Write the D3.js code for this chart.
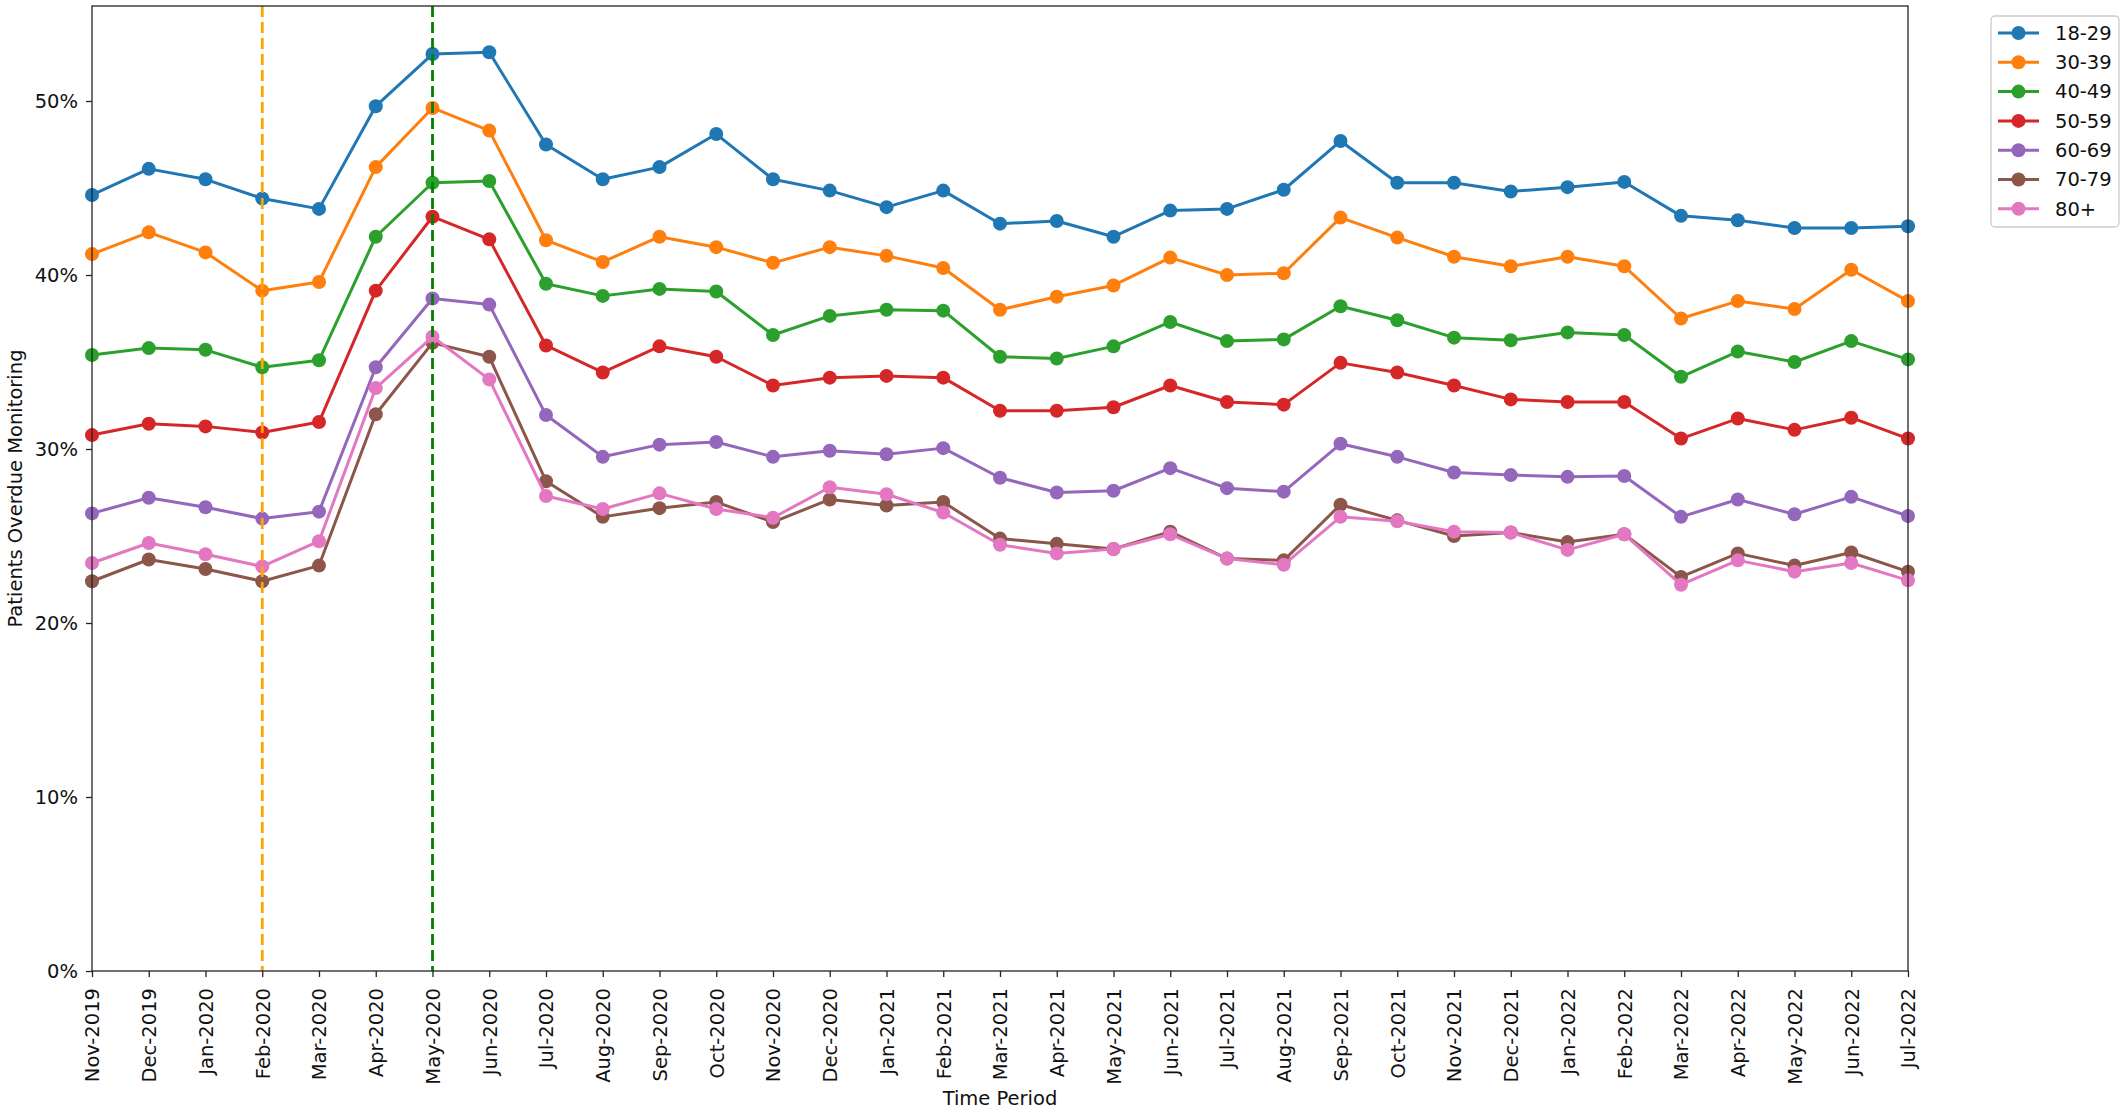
<!DOCTYPE html>
<html>
<head>
<meta charset="utf-8">
<script src="https://cdn.jsdelivr.net/npm/d3@7"></script>
<style>
  html, body { margin: 0; padding: 0; background: #fff; }
  svg { display: block; font-family: "DejaVu Sans", sans-serif; }
</style>
</head>
<body>
<svg id="chart" width="2128" height="1117"></svg>
<script>
const periods = ["Nov-2019","Dec-2019","Jan-2020","Feb-2020","Mar-2020","Apr-2020","May-2020","Jun-2020","Jul-2020","Aug-2020","Sep-2020","Oct-2020","Nov-2020","Dec-2020","Jan-2021","Feb-2021","Mar-2021","Apr-2021","May-2021","Jun-2021","Jul-2021","Aug-2021","Sep-2021","Oct-2021","Nov-2021","Dec-2021","Jan-2022","Feb-2022","Mar-2022","Apr-2022","May-2022","Jun-2022","Jul-2022"];

const ageGroups = ["18-29","30-39","40-49","50-59","60-69","70-79","80+"];
const colors = ["#1f77b4","#ff7f0e","#2ca02c","#d62728","#9467bd","#8c564b","#e377c2"];

const age18_29 = [44.6,46.1,45.5,44.4,43.8,49.7,52.7,52.8,47.5,45.5,46.2,48.1,45.5,44.85,43.9,44.85,42.95,43.1,42.2,43.7,43.8,44.9,47.7,45.3,45.3,44.8,45.05,45.35,43.4,43.15,42.7,42.7,42.8];
const age30_39 = [41.2,42.45,41.3,39.1,39.6,46.2,49.6,48.3,42.0,40.75,42.2,41.6,40.7,41.6,41.1,40.4,38.0,38.75,39.4,41.0,40.0,40.1,43.3,42.15,41.05,40.5,41.05,40.5,37.5,38.5,38.05,40.3,38.5];
const age40_49 = [35.4,35.8,35.7,34.7,35.1,42.2,45.3,45.4,39.5,38.8,39.2,39.05,36.55,37.65,38.0,37.95,35.3,35.2,35.9,37.3,36.2,36.3,38.2,37.4,36.4,36.25,36.7,36.55,34.15,35.6,35.0,36.2,35.15];
const age50_59 = [30.8,31.45,31.3,30.95,31.55,39.1,43.35,42.05,35.95,34.4,35.9,35.3,33.65,34.1,34.2,34.1,32.2,32.2,32.4,33.65,32.7,32.55,34.95,34.4,33.65,32.85,32.7,32.7,30.6,31.75,31.1,31.8,30.6];
const age60_69 = [26.3,27.2,26.65,26.0,26.4,34.7,38.65,38.3,31.95,29.55,30.25,30.4,29.55,29.9,29.7,30.05,28.35,27.5,27.6,28.9,27.75,27.55,30.3,29.55,28.65,28.5,28.4,28.45,26.1,27.1,26.25,27.25,26.15];
const age70_79 = [22.4,23.65,23.1,22.4,23.3,32.0,36.1,35.3,28.15,26.1,26.6,26.95,25.8,27.1,26.75,26.95,24.85,24.55,24.25,25.25,23.7,23.6,26.8,25.9,25.0,25.2,24.65,25.1,22.65,24.0,23.3,24.05,22.95];
const age80plus = [23.45,24.6,23.95,23.25,24.7,33.5,36.45,34.0,27.3,26.55,27.45,26.55,26.05,27.8,27.4,26.35,24.5,24.0,24.25,25.1,23.7,23.35,26.1,25.85,25.25,25.2,24.2,25.1,22.2,23.6,22.95,23.45,22.45];

const yTicks = [0,10,20,30,40,50];
const markerLines = [
  { period: "Feb-2020", color: "#ffa500" },
  { period: "May-2020", color: "#008000" }
];

const seriesValues = [age18_29, age30_39, age40_49, age50_59, age60_69, age70_79, age80plus];
const series = ageGroups.map((g, i) => ({ name: g, color: colors[i], values: seriesValues[i] }));

const M = { left: 92, right: 1908, top: 6, bottom: 971 };
const svg = d3.select("#chart");
const FS = 19.5;
const R = 7;
const LW = 3;

const x = d3.scalePoint().domain(periods).range([M.left, M.right]);
const y = d3.scaleLinear().domain([0, 55.46]).range([M.bottom, M.top]);

// series
const line = d3.line().x((d, i) => x(periods[i])).y(d => y(d));
const g = svg.append("g");
series.forEach(s => {
  g.append("path").datum(s.values)
    .attr("d", line).attr("fill", "none")
    .attr("stroke", s.color).attr("stroke-width", LW)
    .attr("stroke-linejoin", "round");
  g.selectAll(null).data(s.values).enter().append("circle")
    .attr("cx", (d, i) => x(periods[i])).attr("cy", d => y(d))
    .attr("r", R).attr("fill", s.color);
});

// vertical dashed lines
markerLines.forEach(m => {
  svg.append("line")
    .attr("x1", x(m.period)).attr("x2", x(m.period))
    .attr("y1", M.top).attr("y2", M.bottom)
    .attr("stroke", m.color).attr("stroke-width", 2.8)
    .attr("stroke-dasharray", "11,5");
});

// frame
svg.append("rect").attr("x", M.left).attr("y", M.top)
  .attr("width", M.right - M.left).attr("height", M.bottom - M.top)
  .attr("fill", "none").attr("stroke", "#222").attr("stroke-width", 1.3);

// axes
const xAxis = svg.append("g").attr("transform", `translate(0,${M.bottom})`)
  .call(d3.axisBottom(x).tickSize(6).tickPadding(9));
xAxis.select(".domain").remove();
xAxis.selectAll(".tick line").attr("stroke", "#222").attr("stroke-width", 1.3);
xAxis.selectAll(".tick text")
  .attr("font-size", FS).attr("font-family", "DejaVu Sans").attr("fill", "#111")
  .attr("transform", "rotate(-90)")
  .attr("text-anchor", "end").attr("x", -17).attr("y", 0).attr("dy", "0.35em");

const yAxis = svg.append("g").attr("transform", `translate(${M.left},0)`)
  .call(d3.axisLeft(y).tickValues(yTicks).tickFormat(d => d + "%").tickSize(6).tickPadding(8));
yAxis.select(".domain").remove();
yAxis.selectAll(".tick line").attr("stroke", "#222").attr("stroke-width", 1.3);
yAxis.selectAll(".tick text").attr("font-size", FS).attr("font-family", "DejaVu Sans").attr("fill", "#111");

// axis titles
svg.append("text").attr("x", (M.left + M.right) / 2).attr("y", 1105)
  .attr("text-anchor", "middle").attr("font-size", FS).attr("fill", "#111")
  .text("Time Period");
svg.append("text")
  .attr("transform", `translate(22,${(M.top + M.bottom) / 2}) rotate(-90)`)
  .attr("text-anchor", "middle").attr("font-size", FS).attr("fill", "#111")
  .text("Patients Overdue Monitoring");

// legend
const lg = svg.append("g");
lg.append("rect").attr("x", 1991).attr("y", 16).attr("width", 128).attr("height", 211)
  .attr("rx", 4).attr("fill", "#fff").attr("stroke", "#ccc").attr("stroke-width", 1.3);
series.forEach((s, i) => {
  const yy = 33 + i * 29.3;
  lg.append("line").attr("x1", 1998).attr("x2", 2039).attr("y1", yy).attr("y2", yy)
    .attr("stroke", s.color).attr("stroke-width", LW);
  lg.append("circle").attr("cx", 2018.5).attr("cy", yy).attr("r", R).attr("fill", s.color);
  lg.append("text").attr("x", 2055).attr("y", yy).attr("dy", "0.35em")
    .attr("font-size", FS).attr("fill", "#111").text(s.name);
});
</script>
</body>
</html>
